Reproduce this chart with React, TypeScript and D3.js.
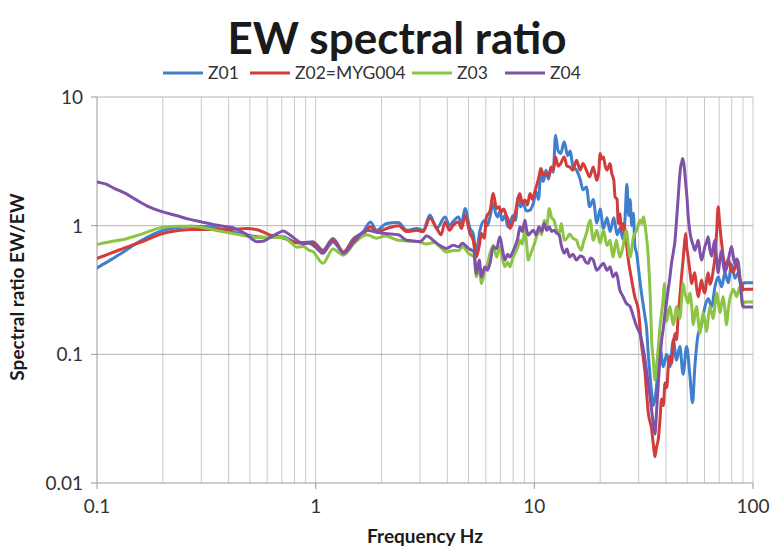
import React from 'react';
import * as d3 from 'd3';

const W = 773;
const H = 552;
const PLOT = { left: 97, right: 753, top: 97, bottom: 483 };
const FONT = 'Lato, "Open Sans", sans-serif';

const seriesNames = ['Z01', 'Z02=MYG004', 'Z03', 'Z04'];
const seriesColors = ['#3f7fce', '#d23c3c', '#8cc444', '#7e52a8'];
const xTickValues = [0.1, 1, 10, 100];
const xTickLabels = ['0.1', '1', '10', '100'];
const yTickValues = [0.01, 0.1, 1, 10];
const yTickLabels = ['0.01', '0.1', '1', '10'];
const minorFreqs = [
  0.2, 0.3, 0.4, 0.5, 0.6, 0.7, 0.8, 0.9,
  2, 3, 4, 5, 6, 7, 8, 9,
  20, 30, 40, 50, 60, 70, 80, 90,
];

// [frequency Hz, spectral ratio]
const z01: [number, number][] = [
  [0.1, 0.47], [0.115, 0.54], [0.132, 0.625], [0.16, 0.77], [0.2, 0.92], [0.24, 0.97], [0.27, 0.99],
  [0.32, 0.98], [0.38, 0.93], [0.45, 0.87], [0.54, 0.82], [0.62, 0.81], [0.71, 0.82], [0.77, 0.77],
  [0.82, 0.735], [0.88, 0.74], [0.97, 0.75], [1.08, 0.645], [1.2, 0.795], [1.34, 0.625], [1.49, 0.795],
  [1.65, 0.895], [1.78, 1.07], [1.9, 0.92], [2.11, 1.04], [2.39, 1.06], [2.61, 0.92], [2.9, 0.95],
  [3.1, 0.92], [3.33, 1.21], [3.58, 0.95], [3.9, 1.17], [4.1, 1.0], [4.24, 1.07], [4.49, 1.17],
  [4.65, 1.05], [4.82, 1.36], [5.08, 0.95], [5.25, 0.87], [5.43, 0.625], [5.64, 0.92], [5.94, 1.1],
  [6.1, 1.0], [6.27, 1.17], [6.49, 1.49], [6.65, 1.25], [6.81, 1.17], [6.96, 1.3], [7.13, 1.1],
  [7.35, 1.2], [7.57, 0.98], [7.8, 1.1], [8.0, 1.2], [8.2, 1.1], [8.44, 1.67], [8.65, 1.4],
  [8.89, 1.49], [9.2, 1.3], [9.55, 1.32], [9.9, 1.5], [10.2, 1.83], [10.45, 1.6], [10.7, 2.54],
  [11.0, 2.2], [11.3, 2.7], [11.6, 2.3], [11.95, 2.86], [12.2, 2.6], [12.5, 5.05], [12.85, 3.8],
  [13.2, 3.64], [13.7, 4.48], [14.2, 3.5], [14.6, 3.8], [15.0, 2.9], [15.6, 2.7], [16.2, 2.3],
  [16.7, 1.9], [17.3, 2.0], [17.9, 1.4], [18.6, 1.6], [19.3, 1.05], [20.0, 1.35], [20.7, 0.95],
  [21.5, 1.15], [22.2, 0.9], [23.1, 1.15], [23.9, 0.85], [24.6, 0.95], [25.5, 0.78], [26.0, 1.15],
  [26.5, 2.1], [27.0, 1.2], [27.4, 1.6], [27.9, 1.0], [28.4, 1.25], [28.8, 0.7], [29.4, 0.6],
  [30.0, 0.45], [30.9, 0.3], [31.5, 0.24], [32.0, 0.2], [32.6, 0.16], [33.2, 0.1], [33.8, 0.07],
  [34.4, 0.05], [35.0, 0.04], [35.6, 0.045], [36.2, 0.056], [37.5, 0.115], [38.9, 0.08], [40.3, 0.1],
  [41.7, 0.08], [43.2, 0.13], [44.7, 0.09], [46.3, 0.115], [47.9, 0.07], [49.7, 0.115], [51.4, 0.07],
  [52.9, 0.042], [54.2, 0.08], [56.2, 0.145], [58.2, 0.17], [60.3, 0.235], [62.4, 0.27], [64.7, 0.235],
  [67.0, 0.335], [69.3, 0.4], [71.9, 0.335], [74.4, 0.43], [77.0, 0.36], [79.8, 0.5], [82.7, 0.39],
  [85.6, 0.43], [88.7, 0.32], [90.5, 0.36], [100, 0.36],
];

const z02: [number, number][] = [
  [0.1, 0.556], [0.115, 0.61], [0.132, 0.665], [0.16, 0.75], [0.2, 0.87], [0.24, 0.92], [0.27, 0.935],
  [0.32, 0.935], [0.38, 0.93], [0.43, 0.94], [0.48, 0.95], [0.54, 0.93], [0.62, 0.845], [0.71, 0.8],
  [0.77, 0.76], [0.82, 0.735], [0.88, 0.74], [0.97, 0.74], [1.08, 0.63], [1.2, 0.78], [1.34, 0.62],
  [1.49, 0.78], [1.65, 0.86], [1.78, 0.98], [1.9, 0.89], [2.11, 0.95], [2.39, 1.0], [2.61, 0.9],
  [2.9, 0.92], [3.1, 0.9], [3.33, 1.14], [3.58, 0.95], [3.75, 0.85], [3.9, 1.07], [4.1, 0.92],
  [4.24, 1.0], [4.49, 1.07], [4.65, 0.95], [4.82, 1.2], [5.08, 0.87], [5.25, 0.77], [5.43, 0.57],
  [5.6, 0.7], [5.73, 0.87], [5.9, 0.8], [6.04, 1.17], [6.27, 1.3], [6.49, 1.78], [6.72, 1.36],
  [6.9, 1.4], [7.05, 1.28], [7.25, 1.35], [7.44, 1.2], [7.6, 1.1], [7.73, 0.95], [7.95, 1.05],
  [8.15, 1.2], [8.4, 1.6], [8.59, 1.78], [8.8, 1.5], [9.06, 1.58], [9.3, 1.45], [9.55, 1.78],
  [9.8, 1.6], [10.0, 1.78], [10.2, 2.0], [10.5, 2.4], [10.7, 2.78], [11.0, 2.5], [11.3, 2.54],
  [11.6, 2.4], [11.95, 2.86], [12.2, 2.7], [12.5, 3.42], [12.85, 2.9], [13.2, 3.04], [13.7, 3.42],
  [14.1, 2.9], [14.5, 2.86], [15.0, 2.7], [15.6, 3.23], [16.2, 2.7], [16.7, 3.04], [17.3, 2.7],
  [17.9, 2.4], [18.6, 2.86], [19.3, 2.25], [19.7, 2.6], [20.0, 3.64], [20.3, 3.3], [20.7, 3.42],
  [21.1, 2.9], [21.5, 2.7], [22.2, 3.04], [22.6, 2.55], [23.1, 2.25], [23.4, 1.67], [23.9, 1.6],
  [24.2, 1.04], [24.6, 1.24], [25.0, 0.92], [25.5, 1.04], [26.0, 0.92], [26.8, 0.57], [27.7, 0.4],
  [28.8, 0.28], [29.9, 0.22], [30.9, 0.12], [32.0, 0.075], [33.2, 0.035], [34.4, 0.026], [35.0, 0.02],
  [35.6, 0.016], [36.2, 0.019], [36.9, 0.022], [37.5, 0.03], [38.2, 0.045], [38.9, 0.04], [39.6, 0.06],
  [40.3, 0.055], [41.0, 0.08], [41.7, 0.096], [42.4, 0.085], [43.2, 0.12], [44.0, 0.145], [44.7, 0.13],
  [45.5, 0.2], [46.3, 0.28], [47.1, 0.4], [47.9, 0.54], [48.5, 0.7], [49.2, 0.87], [49.7, 0.7],
  [50.5, 0.57], [51.4, 0.45], [52.4, 0.355], [53.3, 0.4], [54.2, 0.43], [55.2, 0.33], [56.2, 0.28],
  [57.2, 0.33], [58.2, 0.378], [59.2, 0.32], [60.3, 0.3], [61.4, 0.38], [62.4, 0.43], [63.5, 0.35],
  [64.7, 0.38], [65.8, 0.45], [67.0, 0.57], [68.2, 0.9], [69.3, 1.4], [70.2, 1.1], [71.1, 0.87],
  [72.1, 0.7], [73.1, 0.57], [74.4, 0.5], [75.7, 0.46], [77.0, 0.55], [78.4, 0.5], [79.8, 0.45],
  [81.2, 0.43], [82.7, 0.48], [84.1, 0.52], [85.6, 0.45], [87.1, 0.38], [88.7, 0.35], [90.2, 0.316],
  [91, 0.32], [100, 0.32],
];

const z03: [number, number][] = [
  [0.1, 0.714], [0.115, 0.75], [0.132, 0.78], [0.16, 0.86], [0.2, 0.97], [0.24, 0.99], [0.27, 0.99],
  [0.32, 0.95], [0.38, 0.895], [0.45, 0.85], [0.54, 0.81], [0.62, 0.81], [0.71, 0.81], [0.77, 0.74],
  [0.82, 0.68], [0.88, 0.69], [0.93, 0.645], [0.97, 0.63], [1.08, 0.51], [1.2, 0.66], [1.34, 0.59],
  [1.49, 0.72], [1.71, 0.85], [1.9, 0.8], [2.08, 0.83], [2.39, 0.77], [2.61, 0.76], [2.97, 0.75],
  [3.2, 0.72], [3.5, 0.74], [3.7, 0.685], [3.97, 0.625], [4.26, 0.64], [4.5, 0.64], [4.7, 0.685],
  [5.0, 0.61], [5.3, 0.57], [5.43, 0.4], [5.6, 0.48], [5.73, 0.355], [5.94, 0.45], [6.1, 0.5],
  [6.27, 0.61], [6.49, 0.705], [6.72, 0.57], [6.96, 0.685], [7.15, 0.55], [7.34, 0.48], [7.55, 0.52],
  [7.73, 0.48], [7.95, 0.55], [8.15, 0.61], [8.4, 0.68], [8.59, 0.77], [8.8, 0.72], [9.06, 0.92],
  [9.2, 0.75], [9.38, 0.54], [9.6, 0.6], [9.9, 0.685], [10.2, 0.8], [10.5, 0.92], [10.8, 0.85],
  [11.1, 1.1], [11.4, 1.0], [11.7, 1.36], [12.0, 1.15], [12.3, 1.1], [12.6, 0.95], [13.0, 0.87],
  [13.3, 1.04], [13.7, 0.77], [14.1, 0.8], [14.5, 0.86], [15.0, 0.8], [15.6, 0.77], [15.8, 0.72],
  [16.4, 0.645], [16.8, 0.75], [17.3, 0.87], [18.0, 1.1], [18.6, 0.77], [19.3, 0.92], [20.0, 0.73],
  [20.7, 0.92], [21.5, 0.7], [22.2, 0.77], [22.9, 0.57], [23.7, 0.77], [24.6, 0.57], [25.5, 0.7],
  [26.3, 0.92], [27.4, 0.57], [28.4, 0.82], [29.4, 0.92], [30.4, 1.1], [31.0, 1.04], [31.5, 1.17],
  [32.3, 0.92], [33.2, 0.57], [33.9, 0.28], [34.4, 0.128], [35.0, 0.09], [35.6, 0.063], [36.2, 0.08],
  [36.9, 0.115], [37.5, 0.16], [38.2, 0.21], [38.9, 0.28], [39.3, 0.355], [39.8, 0.25], [40.3, 0.18],
  [41.0, 0.21], [41.7, 0.235], [42.4, 0.2], [43.2, 0.17], [44.0, 0.2], [44.7, 0.235], [45.5, 0.21],
  [46.3, 0.19], [47.1, 0.26], [47.9, 0.355], [48.8, 0.3], [49.7, 0.27], [50.5, 0.25], [51.4, 0.3],
  [52.4, 0.24], [53.3, 0.17], [54.2, 0.2], [55.2, 0.235], [56.2, 0.18], [57.2, 0.145], [58.2, 0.18],
  [59.2, 0.21], [60.3, 0.18], [61.4, 0.15], [62.4, 0.19], [63.5, 0.235], [64.7, 0.21], [65.8, 0.19],
  [67.0, 0.24], [68.2, 0.3], [69.3, 0.26], [70.6, 0.21], [71.9, 0.25], [73.1, 0.28], [74.4, 0.22],
  [75.7, 0.17], [77.0, 0.22], [78.4, 0.27], [79.8, 0.3], [81.2, 0.32], [82.7, 0.3], [84.1, 0.28],
  [85.6, 0.31], [87.1, 0.335], [88.2, 0.3], [89.6, 0.235], [91, 0.255], [100, 0.255],
];

const z04: [number, number][] = [
  [0.1, 2.19], [0.11, 2.1], [0.12, 1.95], [0.135, 1.78], [0.15, 1.6], [0.17, 1.42], [0.2, 1.28],
  [0.23, 1.2], [0.266, 1.12], [0.3, 1.07], [0.34, 1.02], [0.378, 0.99], [0.43, 0.95], [0.48, 0.86],
  [0.54, 0.75], [0.58, 0.76], [0.62, 0.81], [0.67, 0.87], [0.71, 0.91], [0.76, 0.85], [0.82, 0.77],
  [0.88, 0.72], [0.93, 0.73], [1.0, 0.68], [1.08, 0.61], [1.15, 0.7], [1.2, 0.75], [1.27, 0.68],
  [1.34, 0.61], [1.5, 0.75], [1.71, 0.92], [1.9, 0.89], [2.08, 0.87], [2.39, 0.85], [2.61, 0.77],
  [2.8, 0.76], [3.0, 0.75], [3.22, 0.83], [3.51, 0.75], [3.7, 0.7], [3.97, 0.665], [4.26, 0.705],
  [4.5, 0.685], [4.7, 0.73], [4.85, 0.7], [5.0, 0.665], [5.3, 0.625], [5.43, 0.425], [5.6, 0.54],
  [5.73, 0.4], [5.94, 0.48], [6.1, 0.45], [6.27, 0.51], [6.49, 0.685], [6.72, 0.665], [6.96, 0.82],
  [7.15, 0.65], [7.34, 0.54], [7.55, 0.6], [7.73, 0.57], [7.95, 0.62], [8.15, 0.685], [8.4, 0.8],
  [8.59, 0.98], [8.8, 0.9], [9.06, 1.1], [9.2, 0.95], [9.38, 0.845], [9.6, 0.88], [9.9, 0.92],
  [10.2, 0.85], [10.5, 0.98], [10.8, 0.9], [11.1, 1.04], [11.4, 0.92], [11.7, 0.98], [12.0, 0.9],
  [12.3, 0.92], [12.6, 0.88], [13.0, 0.845], [13.3, 0.7], [13.7, 0.61], [14.1, 0.66], [14.5, 0.57],
  [15.0, 0.6], [15.6, 0.54], [16.2, 0.58], [16.7, 0.57], [17.2, 0.52], [17.6, 0.51], [18.1, 0.56],
  [18.6, 0.54], [19.3, 0.45], [20.0, 0.48], [20.7, 0.51], [21.5, 0.45], [22.2, 0.48], [22.9, 0.4],
  [23.7, 0.43], [24.6, 0.316], [25.5, 0.28], [26.3, 0.25], [27.4, 0.235], [28.4, 0.196], [29.4, 0.164],
  [30.4, 0.145], [31.5, 0.11], [32.6, 0.075], [33.8, 0.047], [35.0, 0.029], [35.6, 0.024], [36.2, 0.035],
  [36.9, 0.06], [37.5, 0.09], [38.2, 0.128], [38.9, 0.16], [39.6, 0.21], [40.3, 0.26], [40.9, 0.316],
  [41.7, 0.4], [42.4, 0.51], [43.2, 0.62], [44.0, 0.77], [44.7, 1.1], [45.5, 1.67], [46.1, 2.3],
  [46.7, 2.87], [47.2, 3.1], [47.7, 3.32], [48.3, 3.0], [48.8, 2.55], [49.4, 2.0], [50.0, 1.58],
  [50.5, 1.2], [51.1, 0.98], [51.7, 0.85], [52.4, 0.77], [53.3, 0.7], [54.2, 0.645], [55.2, 0.7],
  [56.2, 0.77], [57.2, 0.62], [58.2, 0.54], [59.2, 0.6], [60.3, 0.69], [61.4, 0.75], [62.4, 0.82],
  [63.5, 0.65], [64.7, 0.58], [65.8, 0.68], [67.0, 0.77], [68.2, 0.55], [69.3, 0.43], [70.6, 0.55],
  [71.9, 0.64], [73.1, 0.5], [74.4, 0.43], [75.7, 0.5], [77.0, 0.54], [78.4, 0.62], [79.8, 0.69],
  [81.2, 0.58], [82.7, 0.5], [84.1, 0.55], [85.6, 0.52], [87.1, 0.4], [88.7, 0.28], [90, 0.233],
  [100, 0.233],
];

const seriesData = [z01, z02, z03, z04];

// legend item left edges (line start)
const legendX = [163, 250, 412, 505];
const LEGEND_Y = 73;

export default function App() {
  const x = d3.scaleLog().domain([0.1, 100]).range([PLOT.left, PLOT.right]);
  const y = d3.scaleLog().domain([0.01, 10]).range([PLOT.bottom, PLOT.top]);
  const line = d3
    .line<[number, number]>()
    .x((d) => x(d[0]))
    .y((d) => y(d[1]))
    .curve(d3.curveMonotoneX);

  const gridColor = '#c8c8c8';
  const axisColor = '#9a9a9a';
  const textColor = '#333333';

  return (
    <div style={{ position: 'absolute', left: 0, top: 0 }}>
      <svg width={W} height={H} viewBox={`0 0 ${W} ${H}`} style={{ display: 'block', background: '#fff' }}>
        <defs>
          <clipPath id="plot-clip">
            <rect x={PLOT.left} y={PLOT.top - 2} width={PLOT.right - PLOT.left} height={PLOT.bottom - PLOT.top + 4} />
          </clipPath>
        </defs>

        <text x={397} y={54} textAnchor="middle" fontFamily={FONT} fontWeight={700} fontSize={44} fill="#1a1a1a">
          EW spectral ratio
        </text>

        {/* legend */}
        {seriesNames.map((name, i) => (
          <g key={name}>
            <line x1={legendX[i]} x2={legendX[i] + 40} y1={LEGEND_Y} y2={LEGEND_Y} stroke={seriesColors[i]} strokeWidth={3} />
            <text x={legendX[i] + 45} y={LEGEND_Y + 6} fontFamily={FONT} fontSize={17.5} fill={textColor}>
              {name}
            </text>
          </g>
        ))}

        {/* vertical grid */}
        {minorFreqs.concat(xTickValues.slice(1)).map((f) => (
          <line key={`vx${f}`} x1={x(f)} x2={x(f)} y1={PLOT.top} y2={PLOT.bottom} stroke={gridColor} strokeWidth={1} />
        ))}
        {/* horizontal grid */}
        {yTickValues.slice(1).map((v) => (
          <line key={`hy${v}`} x1={PLOT.left} x2={PLOT.right} y1={y(v)} y2={y(v)} stroke={'#b4b4b4'} strokeWidth={1} />
        ))}

        {/* axes */}
        <line x1={PLOT.left} x2={PLOT.left} y1={PLOT.top} y2={PLOT.bottom} stroke={axisColor} strokeWidth={1} />
        <line x1={PLOT.left} x2={PLOT.right} y1={PLOT.bottom} y2={PLOT.bottom} stroke={axisColor} strokeWidth={1} />
        {yTickValues.map((v, i) => (
          <g key={`yt${v}`}>
            <line x1={PLOT.left - 6} x2={PLOT.left} y1={y(v)} y2={y(v)} stroke={axisColor} />
            <text x={PLOT.left - 14} y={y(v) + 7} textAnchor="end" fontFamily={FONT} fontSize={19} fill={textColor}>
              {yTickLabels[i]}
            </text>
          </g>
        ))}
        {xTickValues.map((v, i) => (
          <g key={`xt${v}`}>
            <line x1={x(v)} x2={x(v)} y1={PLOT.bottom} y2={PLOT.bottom + 6} stroke={axisColor} />
            <text x={x(v)} y={PLOT.bottom + 30} textAnchor="middle" fontFamily={FONT} fontSize={19} fill={textColor}>
              {xTickLabels[i]}
            </text>
          </g>
        ))}

        {/* axis titles */}
        <text x={425} y={543} textAnchor="middle" fontFamily={FONT} fontWeight={700} fontSize={19} fill="#1a1a1a">
          Frequency Hz
        </text>
        <text
          transform={`translate(24, 287) rotate(-90)`}
          textAnchor="middle"
          fontFamily={FONT}
          fontWeight={700}
          fontSize={19}
          fill="#1a1a1a"
        >
          Spectral ratio EW/EW
        </text>

        {/* series */}
        <g clipPath="url(#plot-clip)">
          {seriesData.map((data, i) => (
            <path
              key={seriesNames[i]}
              d={line(data) || ''}
              fill="none"
              stroke={seriesColors[i]}
              strokeWidth={3}
              strokeLinejoin="round"
              strokeLinecap="round"
            />
          ))}
        </g>
      </svg>
    </div>
  );
}
